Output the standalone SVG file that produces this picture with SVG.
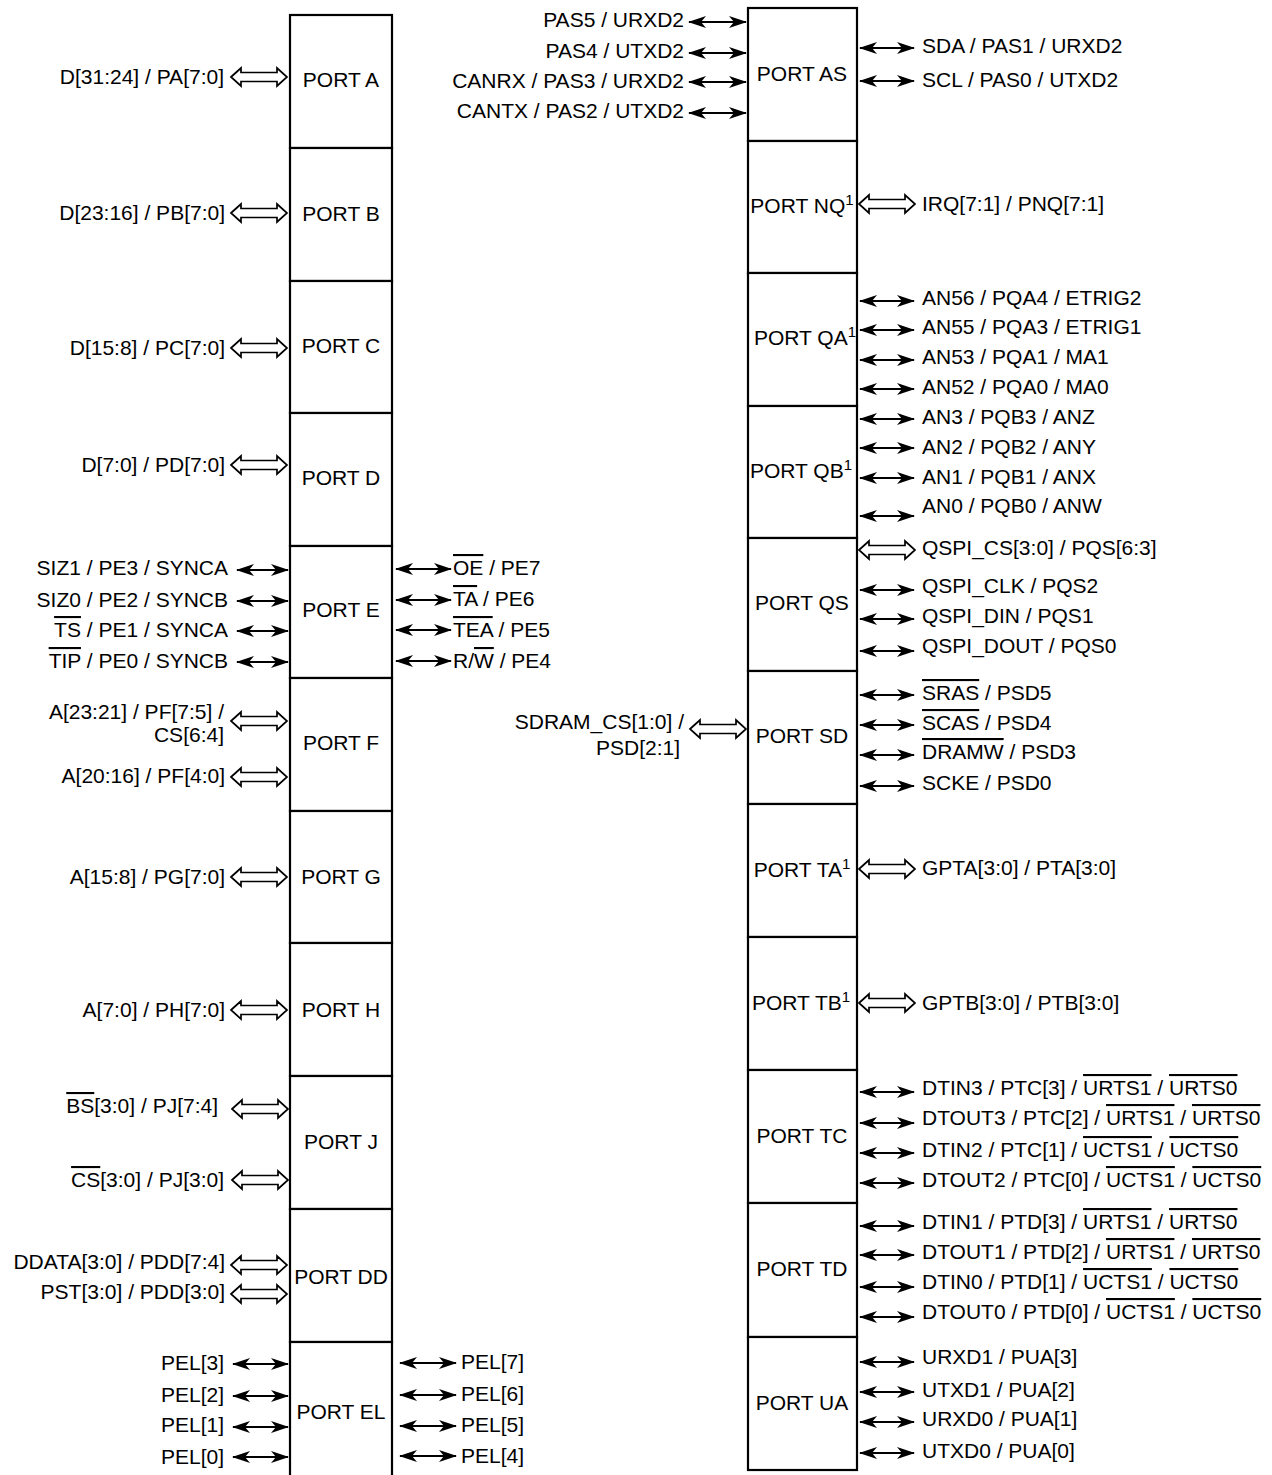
<svg xmlns="http://www.w3.org/2000/svg" xmlns:xlink="http://www.w3.org/1999/xlink" width="1272" height="1475" viewBox="0 0 1272 1475">
<style>
text{font-family:"Liberation Sans",Arial,sans-serif;font-size:21px;fill:#000}
.e{text-anchor:end}
.m{text-anchor:middle}
.ol{text-decoration:overline}
.sup{font-size:15px}
.box{fill:#fff;stroke:#000;stroke-width:2.2}
.sig{stroke:#000;stroke-width:2;fill:none;marker-start:url(#ah);marker-end:url(#ah)}
.bus{fill:#fff;stroke:#000;stroke-width:1.7;stroke-linejoin:miter}
</style>
<defs>
<marker id="ah" viewBox="0 0 18 12" refX="17" refY="6" markerWidth="18" markerHeight="12" markerUnits="userSpaceOnUse" orient="auto-start-reverse">
<path d="M0,0 L18,6 L0,12 L5,6 Z" fill="#000"/>
</marker>
<path id="bus" class="bus" d="M0,0 L10,-9 L10,-4.5 L46,-4.5 L46,-9 L56,0 L46,9 L46,4.5 L10,4.5 L10,9 Z"/>
</defs>
<rect width="1272" height="1475" fill="#fff"/>

<g id="left-column">
<g id="port-a"><rect class="box" x="290" y="15" width="102" height="133"/><text class="m" x="341" y="87">PORT A</text></g>
<g id="port-b"><rect class="box" x="290" y="148" width="102" height="133"/><text class="m" x="341" y="221">PORT B</text></g>
<g id="port-c"><rect class="box" x="290" y="281" width="102" height="132"/><text class="m" x="341" y="353">PORT C</text></g>
<g id="port-d"><rect class="box" x="290" y="413" width="102" height="133"/><text class="m" x="341" y="485">PORT D</text></g>
<g id="port-e"><rect class="box" x="290" y="546" width="102" height="132"/><text class="m" x="341" y="617">PORT E</text></g>
<g id="port-f"><rect class="box" x="290" y="678" width="102" height="133"/><text class="m" x="341" y="750">PORT F</text></g>
<g id="port-g"><rect class="box" x="290" y="811" width="102" height="132"/><text class="m" x="341" y="884">PORT G</text></g>
<g id="port-h"><rect class="box" x="290" y="943" width="102" height="133"/><text class="m" x="341" y="1017">PORT H</text></g>
<g id="port-j"><rect class="box" x="290" y="1076" width="102" height="133"/><text class="m" x="341" y="1149">PORT J</text></g>
<g id="port-dd"><rect class="box" x="290" y="1209" width="102" height="133"/><text class="m" x="341" y="1284">PORT DD</text></g>
<g id="port-el"><rect class="box" x="290" y="1342" width="102" height="140"/><text class="m" x="341" y="1419">PORT EL</text></g>
</g>

<g id="right-column">
<g id="port-as"><rect class="box" x="748" y="8" width="109" height="133"/><text class="m" x="802" y="81">PORT AS</text></g>
<g id="port-nq"><rect class="box" x="748" y="141" width="109" height="132"/><text class="m" x="802" y="213">PORT NQ<tspan class="sup" dy="-8">1</tspan></text></g>
<g id="port-qa"><rect class="box" x="748" y="273" width="109" height="133"/><text class="m" x="805" y="345">PORT QA<tspan class="sup" dy="-8">1</tspan></text></g>
<g id="port-qb"><rect class="box" x="748" y="406" width="109" height="132"/><text class="m" x="801" y="478">PORT QB<tspan class="sup" dy="-8">1</tspan></text></g>
<g id="port-qs"><rect class="box" x="748" y="538" width="109" height="133"/><text class="m" x="802" y="610">PORT QS</text></g>
<g id="port-sd"><rect class="box" x="748" y="671" width="109" height="133"/><text class="m" x="802" y="743">PORT SD</text></g>
<g id="port-ta"><rect class="box" x="748" y="804" width="109" height="133"/><text class="m" x="802" y="877">PORT TA<tspan class="sup" dy="-8">1</tspan></text></g>
<g id="port-tb"><rect class="box" x="748" y="937" width="109" height="133"/><text class="m" x="801" y="1010">PORT TB<tspan class="sup" dy="-8">1</tspan></text></g>
<g id="port-tc"><rect class="box" x="748" y="1070" width="109" height="133"/><text class="m" x="802" y="1143">PORT TC</text></g>
<g id="port-td"><rect class="box" x="748" y="1203" width="109" height="134"/><text class="m" x="802" y="1276">PORT TD</text></g>
<g id="port-ua"><rect class="box" x="748" y="1337" width="109" height="133"/><text class="m" x="802" y="1410">PORT UA</text></g>
</g>

<g id="connectors">
<use href="#bus" x="231" y="77"/>
<use href="#bus" x="231" y="213"/>
<use href="#bus" x="231" y="348"/>
<use href="#bus" x="231" y="465"/>
<use href="#bus" x="231" y="721"/>
<use href="#bus" x="231" y="777"/>
<use href="#bus" x="231" y="877"/>
<use href="#bus" x="231" y="1010"/>
<use href="#bus" x="232" y="1109"/>
<use href="#bus" x="232" y="1180"/>
<use href="#bus" x="231" y="1265"/>
<use href="#bus" x="231" y="1294"/>
<line class="sig" x1="237" y1="570" x2="288" y2="570"/>
<line class="sig" x1="237" y1="601" x2="288" y2="601"/>
<line class="sig" x1="237" y1="631" x2="288" y2="631"/>
<line class="sig" x1="237" y1="662" x2="288" y2="662"/>
<line class="sig" x1="396" y1="569" x2="451" y2="569"/>
<line class="sig" x1="396" y1="600" x2="451" y2="600"/>
<line class="sig" x1="396" y1="630" x2="451" y2="630"/>
<line class="sig" x1="396" y1="661" x2="451" y2="661"/>
<line class="sig" x1="233" y1="1364" x2="288" y2="1364"/>
<line class="sig" x1="233" y1="1396" x2="288" y2="1396"/>
<line class="sig" x1="233" y1="1427" x2="288" y2="1427"/>
<line class="sig" x1="233" y1="1457" x2="288" y2="1457"/>
<line class="sig" x1="400" y1="1363" x2="456" y2="1363"/>
<line class="sig" x1="400" y1="1395" x2="456" y2="1395"/>
<line class="sig" x1="400" y1="1426" x2="456" y2="1426"/>
<line class="sig" x1="400" y1="1456" x2="456" y2="1456"/>
<line class="sig" x1="689" y1="22" x2="746" y2="22"/>
<line class="sig" x1="689" y1="53" x2="746" y2="53"/>
<line class="sig" x1="689" y1="82" x2="746" y2="82"/>
<line class="sig" x1="689" y1="113" x2="746" y2="113"/>
<line class="sig" x1="860" y1="48" x2="914" y2="48"/>
<line class="sig" x1="860" y1="81" x2="914" y2="81"/>
<use href="#bus" x="859" y="204"/>
<line class="sig" x1="860" y1="301" x2="914" y2="301"/>
<line class="sig" x1="860" y1="330" x2="914" y2="330"/>
<line class="sig" x1="860" y1="360" x2="914" y2="360"/>
<line class="sig" x1="860" y1="389" x2="914" y2="389"/>
<line class="sig" x1="860" y1="419" x2="914" y2="419"/>
<line class="sig" x1="860" y1="448" x2="914" y2="448"/>
<line class="sig" x1="860" y1="478" x2="914" y2="478"/>
<line class="sig" x1="860" y1="516" x2="914" y2="516"/>
<use href="#bus" x="859" y="550"/>
<line class="sig" x1="860" y1="590" x2="914" y2="590"/>
<line class="sig" x1="860" y1="619" x2="914" y2="619"/>
<line class="sig" x1="860" y1="651" x2="914" y2="651"/>
<use href="#bus" x="690" y="729"/>
<line class="sig" x1="860" y1="695" x2="914" y2="695"/>
<line class="sig" x1="860" y1="725" x2="914" y2="725"/>
<line class="sig" x1="860" y1="755" x2="914" y2="755"/>
<line class="sig" x1="860" y1="786" x2="914" y2="786"/>
<use href="#bus" x="859" y="869"/>
<use href="#bus" x="859" y="1003"/>
<line class="sig" x1="860" y1="1092" x2="914" y2="1092"/>
<line class="sig" x1="860" y1="1123" x2="914" y2="1123"/>
<line class="sig" x1="860" y1="1153" x2="914" y2="1153"/>
<line class="sig" x1="860" y1="1183" x2="914" y2="1183"/>
<line class="sig" x1="860" y1="1226" x2="914" y2="1226"/>
<line class="sig" x1="860" y1="1255" x2="914" y2="1255"/>
<line class="sig" x1="860" y1="1287" x2="914" y2="1287"/>
<line class="sig" x1="860" y1="1317" x2="914" y2="1317"/>
<line class="sig" x1="860" y1="1362" x2="914" y2="1362"/>
<line class="sig" x1="860" y1="1392" x2="914" y2="1392"/>
<line class="sig" x1="860" y1="1422" x2="914" y2="1422"/>
<line class="sig" x1="860" y1="1453" x2="914" y2="1453"/>
</g>

<g id="signal-labels">
<text class="e" x="224" y="84">D[31:24] / PA[7:0]</text>
<text class="e" x="225" y="220">D[23:16] / PB[7:0]</text>
<text class="e" x="225" y="355">D[15:8] / PC[7:0]</text>
<text class="e" x="225" y="472">D[7:0] / PD[7:0]</text>
<text class="e" x="228" y="575">SIZ1 / PE3 / SYNCA</text>
<text class="e" x="228" y="607">SIZ0 / PE2 / SYNCB</text>
<text class="e" x="228" y="637"><tspan class="ol">TS</tspan> / PE1 / SYNCA</text>
<text class="e" x="228" y="668"><tspan class="ol">TIP</tspan> / PE0 / SYNCB</text>
<text x="453" y="575"><tspan class="ol">OE</tspan> / PE7</text>
<text x="453" y="606"><tspan class="ol">TA</tspan> / PE6</text>
<text x="453" y="637"><tspan class="ol">TEA</tspan> / PE5</text>
<text x="453" y="668">R/<tspan class="ol">W</tspan> / PE4</text>
<text class="e" x="224" y="719">A[23:21] / PF[7:5] /</text>
<text class="e" x="224" y="742">CS[6:4]</text>
<text class="e" x="225" y="783">A[20:16] / PF[4:0]</text>
<text class="e" x="225" y="884">A[15:8] / PG[7:0]</text>
<text class="e" x="225" y="1017">A[7:0] / PH[7:0]</text>
<text class="e" x="218" y="1113"><tspan class="ol">BS</tspan>[3:0] / PJ[7:4]</text>
<text class="e" x="224" y="1187"><tspan class="ol">CS</tspan>[3:0] / PJ[3:0]</text>
<text class="e" x="225" y="1269">DDATA[3:0] / PDD[7:4]</text>
<text class="e" x="225" y="1299">PST[3:0] / PDD[3:0]</text>
<text class="e" x="224" y="1370">PEL[3]</text>
<text class="e" x="224" y="1402">PEL[2]</text>
<text class="e" x="224" y="1432">PEL[1]</text>
<text class="e" x="224" y="1464">PEL[0]</text>
<text x="461" y="1369">PEL[7]</text>
<text x="461" y="1401">PEL[6]</text>
<text x="461" y="1432">PEL[5]</text>
<text x="461" y="1463">PEL[4]</text>

<text class="e" x="684" y="27">PAS5 / URXD2</text>
<text class="e" x="684" y="58">PAS4 / UTXD2</text>
<text class="e" x="684" y="88">CANRX / PAS3 / URXD2</text>
<text class="e" x="684" y="118">CANTX / PAS2 / UTXD2</text>
<text x="922" y="53">SDA / PAS1 / URXD2</text>
<text x="922" y="87">SCL / PAS0 / UTXD2</text>
<text x="922" y="211">IRQ[7:1] / PNQ[7:1]</text>
<text x="922" y="305">AN56 / PQA4 / ETRIG2</text>
<text x="922" y="334">AN55 / PQA3 / ETRIG1</text>
<text x="922" y="364">AN53 / PQA1 / MA1</text>
<text x="922" y="394">AN52 / PQA0 / MA0</text>
<text x="922" y="424">AN3 / PQB3 / ANZ</text>
<text x="922" y="454">AN2 / PQB2 / ANY</text>
<text x="922" y="484">AN1 / PQB1 / ANX</text>
<text x="922" y="513">AN0 / PQB0 / ANW</text>
<text x="922" y="555">QSPI_CS[3:0] / PQS[6:3]</text>
<text x="922" y="593">QSPI_CLK / PQS2</text>
<text x="922" y="623">QSPI_DIN / PQS1</text>
<text x="922" y="653">QSPI_DOUT / PQS0</text>
<text class="e" x="684" y="729">SDRAM_CS[1:0] /</text>
<text class="e" x="680" y="755">PSD[2:1]</text>
<text x="922" y="700"><tspan class="ol">SRAS</tspan> / PSD5</text>
<text x="922" y="730"><tspan class="ol">SCAS</tspan> / PSD4</text>
<text x="922" y="759"><tspan class="ol">DRAMW</tspan> / PSD3</text>
<text x="922" y="790">SCKE / PSD0</text>
<text x="922" y="875">GPTA[3:0] / PTA[3:0]</text>
<text x="922" y="1010">GPTB[3:0] / PTB[3:0]</text>
<text x="922" y="1095">DTIN3 / PTC[3] / <tspan class="ol">URTS1</tspan> / <tspan class="ol">URTS0</tspan></text>
<text x="922" y="1125">DTOUT3 / PTC[2] / <tspan class="ol">URTS1</tspan> / <tspan class="ol">URTS0</tspan></text>
<text x="922" y="1157">DTIN2 / PTC[1] / <tspan class="ol">UCTS1</tspan> / <tspan class="ol">UCTS0</tspan></text>
<text x="922" y="1187">DTOUT2 / PTC[0] / <tspan class="ol">UCTS1</tspan> / <tspan class="ol">UCTS0</tspan></text>
<text x="922" y="1229">DTIN1 / PTD[3] / <tspan class="ol">URTS1</tspan> / <tspan class="ol">URTS0</tspan></text>
<text x="922" y="1259">DTOUT1 / PTD[2] / <tspan class="ol">URTS1</tspan> / <tspan class="ol">URTS0</tspan></text>
<text x="922" y="1289">DTIN0 / PTD[1] / <tspan class="ol">UCTS1</tspan> / <tspan class="ol">UCTS0</tspan></text>
<text x="922" y="1319">DTOUT0 / PTD[0] / <tspan class="ol">UCTS1</tspan> / <tspan class="ol">UCTS0</tspan></text>
<text x="922" y="1364">URXD1 / PUA[3]</text>
<text x="922" y="1397">UTXD1 / PUA[2]</text>
<text x="922" y="1426">URXD0 / PUA[1]</text>
<text x="922" y="1458">UTXD0 / PUA[0]</text>
</g>
</svg>
